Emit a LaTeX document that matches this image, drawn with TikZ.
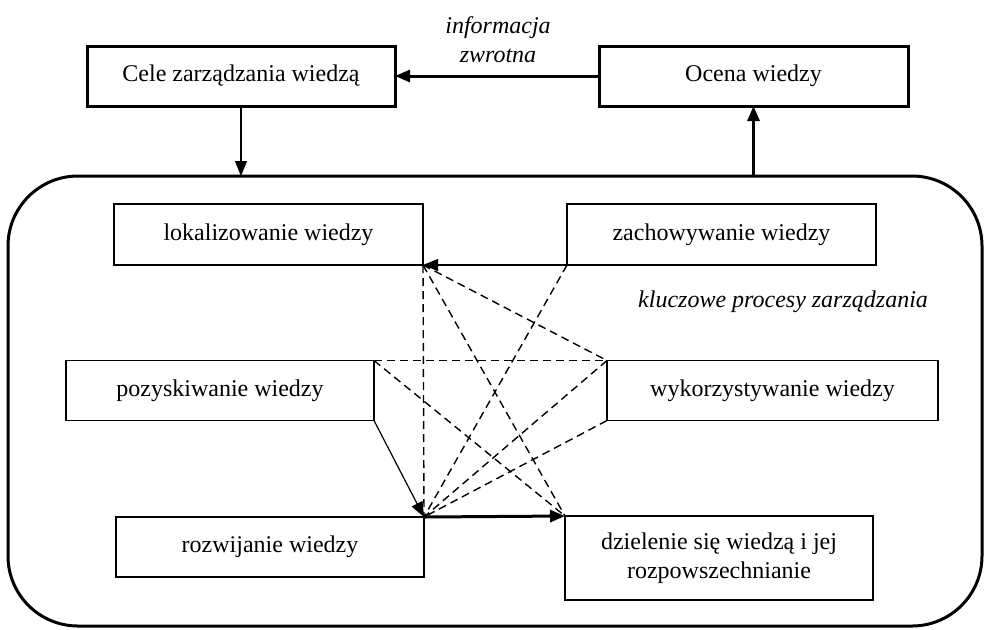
\documentclass[tikz,border=0pt]{standalone}
\usepackage{fontspec}
\setmainfont{Liberation Serif}
\usepackage{tikz}
\usetikzlibrary{shapes,arrows.meta,positioning}

\begin{document}
\begin{tikzpicture}[x=0.5pt, y=-0.5pt, font=\fontsize{12}{14.5}\selectfont]
\tikzstyle{topblock} = [rectangle, draw, line width=1.5pt, inner sep=0pt, outer sep=0pt, minimum width=154pt, minimum height=30pt, align=center]
\tikzstyle{block} = [rectangle, draw, line width=0.6pt, inner sep=0pt, outer sep=0pt, minimum width=154pt, minimum height=30pt, align=center]
\tikzstyle{frame} = [rectangle, draw, line width=1.5pt, rounded corners=35pt, inner sep=0pt, outer sep=0pt, minimum width=487pt, minimum height=225pt]
\tikzstyle{arrow} = [line width=0.6pt, -{Triangle[length=7.5pt,width=6pt]}]
\tikzstyle{boldarrow} = [line width=1.5pt, -{Triangle[length=7.5pt,width=6pt]}]
\tikzstyle{dashline} = [line width=0.7pt, dash pattern=on 4pt off 2.5pt]

\useasboundingbox (0,0) rectangle (985,629);

% top level
\node[topblock] (cele) at (241,76) {Cele zarządzania wiedzą};
\node[topblock, minimum width=154.5pt] (ocena) at (753.5,76) {Ocena wiedzy};
\node[align=center, font=\fontsize{12}{14.5}\selectfont\itshape] (info) at (498,40) {informacja\\zwrotna};

% key processes
\node[frame] (proc) at (495,401) {};
\node[font=\fontsize{12}{14.5}\selectfont\itshape, anchor=east] (kluczowe) at (935,302) {kluczowe procesy zarządzania};

\node[block, minimum width=154.5pt, minimum height=30.5pt] (lok) at (268.5,234.5) {lokalizowanie wiedzy};
\node[block, minimum width=154.5pt, minimum height=30.5pt] (zach) at (721.5,234.5) {zachowywanie wiedzy};
\node[block] (poz) at (220,390.5) {pozyskiwanie wiedzy};
\node[block, minimum width=165.5pt] (wyk) at (772.5,390.5) {wykorzystywanie wiedzy};
\node[block] (roz) at (270,547) {rozwijanie wiedzy};
\node[block, minimum height=42pt] (dziel) at (719,558) {dzielenie się wiedzą i jej\\rozpowszechnianie};

\draw[boldarrow] (ocena.west) -- (cele.east);
\draw[arrow] (cele.south) -- (cele.south |- proc.north);
\draw[boldarrow] (proc.north -| ocena.south) -- (ocena.south);

\draw[dashline] (lok.south east) -- (roz.north east);
\draw[dashline] (lok.south east) -- (dziel.north west);
\draw[dashline] (lok.south east) -- (wyk.north west);
\draw[dashline] (zach.south west) -- (roz.north east);
\draw[dashline] (poz.north east) -- (wyk.north west);
\draw[dashline] (poz.north east) -- (dziel.north west);
\draw[dashline] (wyk.north west) -- (roz.north east);
\draw[dashline] (wyk.south west) -- (roz.north east);

\draw[arrow] (zach.south west) -- (lok.south east);
\draw[arrow] (poz.south east) -- (roz.north east);
\draw[boldarrow] (roz.north east) -- (dziel.north west);
\end{tikzpicture}
\end{document}
